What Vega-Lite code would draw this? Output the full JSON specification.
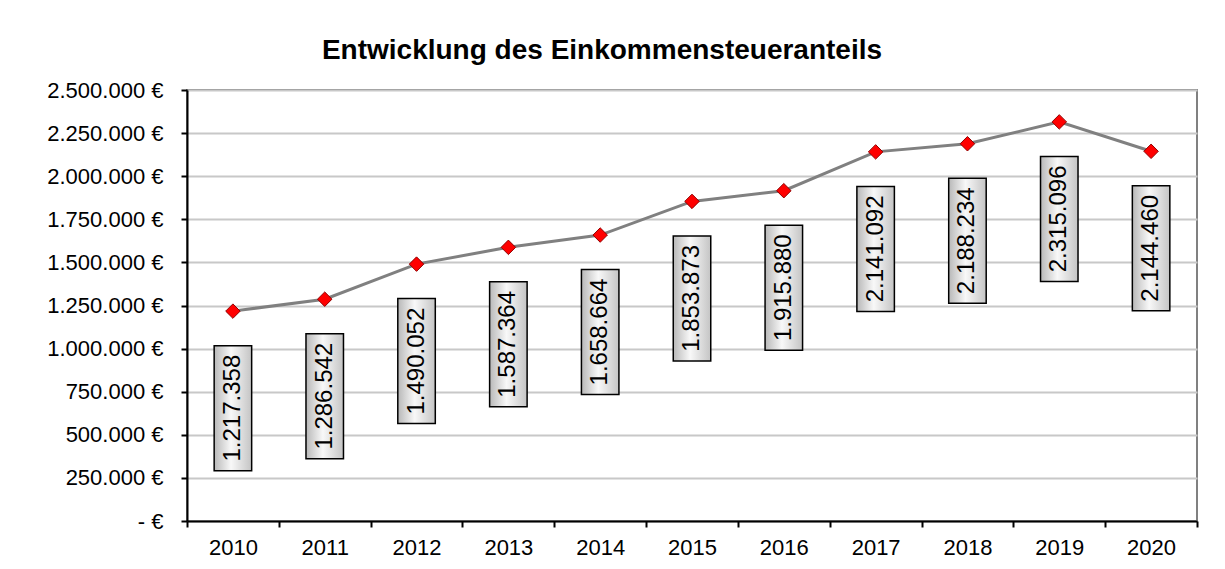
{
  "$schema": "https://vega.github.io/schema/vega-lite/v6.json",
  "width": 1010,
  "height": 431,
  "autosize": {"type": "none"},
  "padding": {"left": 187, "top": 90, "right": 28, "bottom": 48},
  "background": "white",
  "title": {
    "text": "Entwicklung des Einkommensteueranteils",
    "font": "Liberation Sans",
    "fontSize": 28,
    "fontWeight": "bold",
    "color": "black",
    "anchor": "middle",
    "dx": -90,
    "offset": 14
  },
  "config": {
    "locale": {"number": {"decimal": ",", "thousands": ".", "grouping": [3], "currency": ["", " €"]}},
    "view": {"stroke": "#808080", "strokeWidth": 2},
    "axis": {"labelFont": "Liberation Sans", "labelFontSize": 22, "labelColor": "black"}
  },
  "data": {
    "values": [
      {"jahr": "2010", "wert": 1217358},
      {"jahr": "2011", "wert": 1286542},
      {"jahr": "2012", "wert": 1490052},
      {"jahr": "2013", "wert": 1587364},
      {"jahr": "2014", "wert": 1658664},
      {"jahr": "2015", "wert": 1853873},
      {"jahr": "2016", "wert": 1915880},
      {"jahr": "2017", "wert": 2141092},
      {"jahr": "2018", "wert": 2188234},
      {"jahr": "2019", "wert": 2315096},
      {"jahr": "2020", "wert": 2144460}
    ]
  },
  "encoding": {
    "x": {
      "field": "jahr",
      "type": "ordinal",
      "scale": {"paddingInner": 0, "paddingOuter": 0},
      "axis": {
        "title": null,
        "labelAngle": 0,
        "tickBand": "extent",
        "grid": false,
        "domainColor": "black",
        "domainWidth": 2,
        "tickColor": "black",
        "tickWidth": 2,
        "tickSize": 6,
        "labelPadding": 10
      }
    },
    "y": {
      "field": "wert",
      "type": "quantitative",
      "scale": {"domain": [0, 2500000], "nice": false, "zero": true},
      "axis": {
        "title": null,
        "values": [0, 250000, 500000, 750000, 1000000, 1250000, 1500000, 1750000, 2000000, 2250000, 2500000],
        "format": ",.0f",
        "labelExpr": "datum.value == 0 ? '- €' : datum.label + ' €'",
        "grid": true,
        "gridColor": "#c8c8c8",
        "gridWidth": 2,
        "domainColor": "black",
        "domainWidth": 2,
        "tickColor": "black",
        "tickWidth": 2,
        "tickSize": 6,
        "labelPadding": 18
      }
    }
  },
  "layer": [
    {
      "mark": {"type": "line", "color": "#808080", "strokeWidth": 3}
    },
    {
      "mark": {"type": "point", "shape": "diamond", "filled": true, "fill": "#ff0000", "stroke": "#900000", "strokeWidth": 1, "size": 210, "opacity": 1}
    },
    {
      "mark": {
        "type": "point",
        "shape": "M-0.3,-1H0.3V1H-0.3Z",
        "size": 15625,
        "filled": true,
        "opacity": 1,
        "yOffset": 97,
        "fill": {
          "gradient": "linear",
          "x1": 0, "y1": 0, "x2": 1, "y2": 0,
          "stops": [
            {"offset": 0, "color": "#b8b8b8"},
            {"offset": 0.45, "color": "#f8f8f8"},
            {"offset": 1, "color": "#c4c4c4"}
          ]
        },
        "stroke": "black",
        "strokeWidth": 1.5
      }
    },
    {
      "mark": {
        "type": "text",
        "angle": 270,
        "align": "center",
        "baseline": "middle",
        "font": "Liberation Sans",
        "fontSize": 24,
        "color": "black",
        "yOffset": 97
      },
      "encoding": {
        "text": {"field": "wert", "type": "quantitative", "format": ",.0f"}
      }
    }
  ]
}
